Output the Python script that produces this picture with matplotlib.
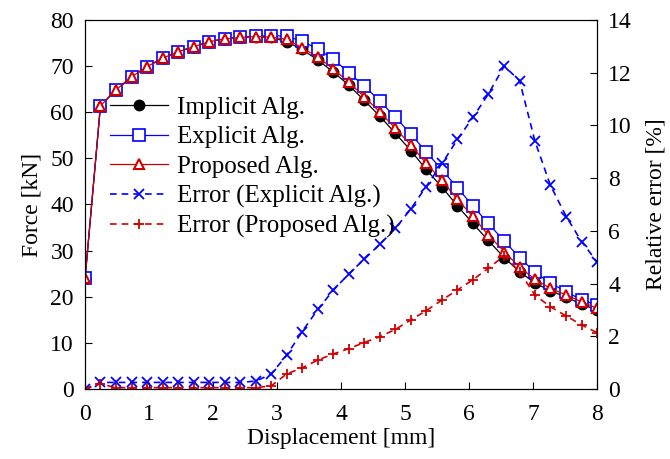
import matplotlib
matplotlib.use("Agg")
import matplotlib.pyplot as plt

plt.rcParams['font.family'] = ['Liberation Serif', 'DejaVu Serif']
plt.rcParams['font.size'] = 17

# --- data ---
disp = [0.00, 0.24, 0.48, 0.73, 0.97, 1.21, 1.45, 1.70, 1.94, 2.18, 2.42, 2.67,
        2.91, 3.15, 3.39, 3.64, 3.88, 4.12, 4.36, 4.61, 4.85, 5.09, 5.33, 5.58,
        5.82, 6.06, 6.30, 6.55, 6.79, 7.03, 7.27, 7.52, 7.76, 8.00]

force_implicit = [24.0, 61.4, 64.8, 67.7, 69.9, 71.7, 73.1, 74.2, 75.3, 75.9, 76.2, 76.4,
                  76.2, 75.3, 73.6, 71.3, 68.7, 65.9, 62.6, 59.1, 55.4, 51.7, 47.6, 43.7,
                  39.7, 35.9, 32.2, 28.5, 25.4, 23.0, 21.3, 19.9, 18.4, 17.1]
force_explicit = [24.0, 61.4, 64.8, 67.7, 69.9, 71.7, 73.1, 74.2, 75.3, 75.9, 76.3, 76.5,
                  76.6, 76.5, 75.4, 73.7, 71.5, 68.6, 65.7, 62.4, 58.9, 55.3, 51.4, 47.5,
                  43.6, 39.7, 35.9, 32.1, 28.5, 25.3, 23.0, 21.1, 19.3, 18.2]
force_proposed = [24.0, 61.4, 64.8, 67.7, 69.9, 71.7, 73.1, 74.2, 75.3, 75.9, 76.2, 76.4,
                  76.3, 75.8, 74.0, 71.9, 69.4, 66.5, 63.4, 60.0, 56.5, 52.9, 48.9, 45.2,
                  41.1, 37.4, 33.4, 29.8, 26.4, 23.8, 21.8, 20.4, 18.9, 17.5]

err_explicit = [0.0, 0.25, 0.25, 0.25, 0.25, 0.25, 0.25, 0.25, 0.25, 0.25, 0.25, 0.3,
                0.57, 1.28, 2.17, 3.03, 3.75, 4.36, 4.92, 5.50, 6.09, 6.83, 7.68, 8.56,
                9.47, 10.3, 11.18, 12.25, 11.70, 9.41, 7.74, 6.54, 5.59, 4.83]
err_proposed = [0.0, 0.2, 0.05, 0.05, 0.05, 0.05, 0.05, 0.05, 0.05, 0.05, 0.05, 0.05,
                0.12, 0.57, 0.80, 1.10, 1.33, 1.53, 1.76, 1.99, 2.26, 2.62, 2.97, 3.38,
                3.76, 4.14, 4.58, 5.05, 4.45, 3.57, 3.12, 2.77, 2.43, 2.14]

blue = '#0000ff'
red = '#d00000'

fig = plt.figure(figsize=(6.7, 4.59), dpi=100)
ax = fig.add_axes([0.127, 0.1525, 0.764, 0.804])
ax2 = ax.twinx()

l1, = ax.plot(disp, force_implicit, color='black', lw=0.9, marker='o', ms=7.5,
              mfc='black', mec='black', label='Implicit Alg.')
l2, = ax.plot(disp, force_explicit, color=blue, lw=0.9, marker='s', ms=8,
              mfc='white', mec=blue, mew=1.2, label='Explicit Alg.')
l3, = ax.plot(disp, force_proposed, color=red, lw=0.9, marker='^', ms=7.5,
              mfc='white', mec=red, mew=1.5, label='Proposed Alg.')

l4, = ax2.plot(disp, err_explicit, color=blue, lw=1.2, ls=(0, (4, 3)), marker='x',
               ms=7, mew=1.3, label='Error (Explicit Alg.)')
l5, = ax2.plot(disp, err_proposed, color=red, lw=1.2, ls=(0, (4, 3)), marker='+',
               ms=7.5, mew=1.3, label='Error (Proposed Alg.)')

ax.set_xlim(0, 8)
ax.set_ylim(0, 80)
ax2.set_ylim(0, 14)
ax.set_xticks(range(0, 9))
ax.set_yticks(range(0, 81, 10))
ax2.set_yticks(range(0, 15, 2))

ax.tick_params(direction='in', length=5, width=0.8, pad=8, top=False, right=False)
ax.tick_params(axis='x', pad=11)
ax2.tick_params(direction='in', length=5, width=0.8, pad=8)

ax.set_xlabel('Displacement [mm]', labelpad=2)
ax.set_ylabel('Force [kN]', labelpad=6)
ax2.set_ylabel('Relative error [%]', labelpad=10)

ax2.legend(handles=[l1, l2, l3, l4, l5], loc='upper left', fontsize=18,
           bbox_to_anchor=(0.03, 0.82), frameon=False, handlelength=2.3,
           handletextpad=0.35, labelspacing=0.28, borderaxespad=0)

fig.savefig('out.png', dpi=100)
